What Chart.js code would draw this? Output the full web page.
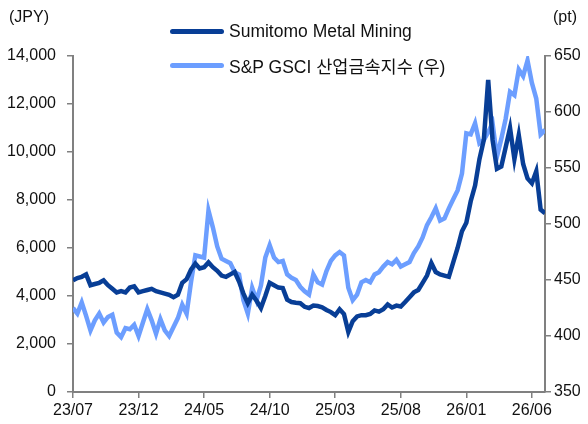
<!DOCTYPE html>
<html>
<head>
<meta charset="utf-8">
<script src="https://cdn.jsdelivr.net/npm/chart.js@4/dist/chart.umd.min.js"></script>
<style>
  body { margin: 0; background: #fff; }
  #wrap { position: relative; width: 588px; height: 424px; }
  .leg { position: absolute; left: 170px; height: 20px; font: 17.5px "Liberation Sans", Arial, "Noto Sans CJK KR", sans-serif; color: #111; display: flex; align-items: center; }
  .leg span.ln { display: inline-block; width: 54px; height: 5px; border-radius: 3px; margin-right: 5px; }
  .unit { position: absolute; top: 8px; font: 16px "Liberation Sans", Arial, sans-serif; color: #111; }
</style>
</head>
<body>
<div id="wrap">
  <canvas id="c" width="588" height="424"></canvas>
  <div class="unit" style="left:9px">(JPY)</div>
  <div class="unit" style="left:553px">(pt)</div>
  <div class="leg" style="top:21px"><span class="ln" style="background:#083E96"></span>Sumitomo Metal Mining</div>
  <div class="leg" style="top:55px"><span class="ln" style="background:#6C9EFF"></span>S&amp;P GSCI 산업금속지수 (우)</div>
</div>
<script>
// x tick labels, one every 15 points (points are ~10 days apart)
const xLabels = ["23/07", "23/12", "24/05", "24/10", "25/03", "25/08", "26/01", "26/06"];

// Sumitomo Metal Mining (JPY, left axis)
const smm = [
  4650, 4750, 4800, 4900, 4450, 4500, 4550, 4650, 4450, 4300,
  4150, 4200, 4150, 4350, 4400, 4150, 4200, 4250, 4300, 4200,
  4150, 4100, 4050, 3950, 4050, 4550, 4700, 5100, 5350, 5150,
  5200, 5400, 5200, 5050, 4850, 4800, 4900, 5000, 4600, 4100,
  3700, 4050, 3800, 3500, 4000, 4550, 4450, 4350, 4330, 3850,
  3750, 3720, 3700, 3550, 3500, 3600, 3580, 3530, 3420, 3330,
  3200, 3450, 3250, 2500, 2950, 3150, 3200, 3200, 3250, 3400,
  3350, 3450, 3650, 3520, 3600, 3560, 3750, 3950, 4150, 4250,
  4550, 4850, 5375, 5000, 4900, 4850, 4800, 5400, 6000, 6700,
  7050, 7950, 8600, 9700, 10500, 13000, 10500, 9300, 9400, 10200,
  11000, 9700, 10700, 9500, 8900, 8700, 9200, 7600, 7450
];

// S&P GSCI Industrial Metals index (pt, right axis)
const gsci = [
  425, 420, 430, 418, 405, 414, 420, 412, 417, 419,
  403, 399, 407, 406, 410, 400, 412, 424, 414, 402,
  415, 405, 400, 408, 416, 428, 420, 448, 472, 471,
  470, 512, 497, 480, 469, 467, 465, 457, 455, 432,
  420, 443, 432, 445, 470, 481, 470, 466, 467, 455,
  452, 450, 444, 440, 437, 455, 448, 446, 458, 467,
  472, 475, 472, 443, 432, 437, 448, 450, 448, 455,
  457, 462, 466, 464, 468, 462, 464, 466, 474, 480,
  488, 499, 506, 514, 503, 505, 514, 522, 530, 545,
  581, 580, 590, 572, 575, 582, 590, 560, 576, 594,
  618, 615, 638, 632, 646, 626, 612, 580, 584
];

const axisColor = "#808080";
const tickFont = { family: "'Liberation Sans', Arial, sans-serif", size: 16 };

const ctx = document.getElementById("c").getContext("2d");
new Chart(ctx, {
  type: "line",
  data: {
    datasets: [
      {
        label: "Sumitomo Metal Mining",
        data: smm.map((v, i) => ({ x: i, y: v })),
        yAxisID: "y",
        borderColor: "#083E96",
        borderWidth: 4.5,
        pointRadius: 0,
        tension: 0,
      },
      {
        label: "S&P GSCI 산업금속지수 (우)",
        data: gsci.map((v, i) => ({ x: i, y: v })),
        yAxisID: "y2",
        borderColor: "#6C9EFF",
        borderWidth: 4.5,
        pointRadius: 0,
        tension: 0,
      },
    ],
  },
  options: {
    responsive: false,
    animation: false,
    layout: { padding: { top: 56, left: 0, right: 0, bottom: 0 } },
    plugins: {
      legend: { display: false },
      tooltip: { enabled: false },
    },
    scales: {
      x: {
        type: "linear",
        min: 0,
        max: 108,
        afterFit: (s) => { s.height = 32; },
        afterBuildTicks: (s) => {
          s.ticks = xLabels.map((l, i) => ({ value: i * 15 }));
        },
        ticks: {
          autoSkip: false,
          maxRotation: 0,
          padding: 3,
          color: "#111",
          font: tickFont,
          callback: (v) => xLabels[v / 15],
        },
        grid: { drawOnChartArea: false, drawTicks: true, tickLength: 6, color: axisColor, lineWidth: 1.5 },
        border: { display: true, color: axisColor, width: 2 },
      },
      y: {
        position: "left",
        min: 0,
        max: 14000,
        afterFit: (s) => { s.width = 73; },
        ticks: {
          stepSize: 2000,
          padding: 11,
          color: "#111",
          font: tickFont,
          callback: (v) => v.toLocaleString("en-US"),
        },
        grid: { drawOnChartArea: false, drawTicks: true, tickLength: 6, color: axisColor, lineWidth: 1.5 },
        border: { display: true, color: axisColor, width: 2 },
      },
      y2: {
        position: "right",
        min: 350,
        max: 650,
        afterFit: (s) => { s.width = 43; },
        ticks: {
          stepSize: 50,
          padding: 3,
          color: "#111",
          font: tickFont,
        },
        grid: { drawOnChartArea: false, drawTicks: true, tickLength: 6, color: axisColor, lineWidth: 1.5 },
        border: { display: true, color: axisColor, width: 2 },
      },
    },
  },
});
</script>
</body>
</html>
